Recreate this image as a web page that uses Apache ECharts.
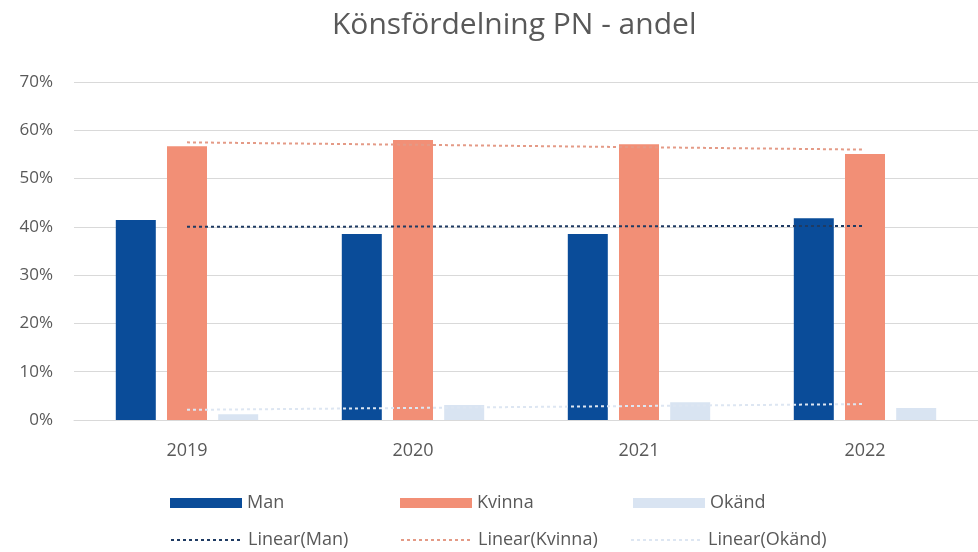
<!DOCTYPE html>
<html>
<head>
<meta charset="utf-8">
<script src="https://cdn.jsdelivr.net/npm/echarts@6/dist/echarts.min.js"></script>
<style>
html,body{margin:0;padding:0;background:#fff;}
#chart{width:978px;height:552px;}
</style>
</head>
<body>
<div id="chart"></div>
<script>
var categories = ['2019', '2020', '2021', '2022'];
var man = [41.4, 38.5, 38.5, 41.8];
var kvinna = [56.7, 58.0, 57.1, 55.1];
var okand = [1.2, 3.1, 3.7, 2.5];
// trend line end points [categoryIndex, value]
var manTrend = [[0, 40.0], [3, 40.2]];
var kvinnaTrend = [[0, 57.5], [3, 56.0]];
var okandTrend = [[0, 2.1], [3, 3.3]];
var yTicks = [0, 10, 20, 30, 40, 50, 60, 70];

var FONT = '"Open Sans", "Noto Sans", sans-serif';
var TXT = '#595959';
var C_MAN = '#0a4c99', C_KV = '#f28f76', C_OK = '#d9e4f2';
var C_MANT = '#1f3b63', C_KVT = '#e49a86', C_OKT = '#dde6f2';

var chart = echarts.init(document.getElementById('chart'));

function legendAt(name, left, top, isLine) {
  var l = {
    data: [name], left: left, top: top,
    itemWidth: 72, itemHeight: 10, itemGap: 0,
    selectedMode: false, padding: 0,
    textStyle: {color: TXT, fontSize: 18, fontFamily: FONT, lineHeight: 20, padding: [0, 0, 0, 0]}
  };
  if (isLine) {
    l.itemStyle = {opacity: 0};
  } else {
    l.icon = 'rect';
  }
  return l;
}

chart.setOption({
  animation: false,
  backgroundColor: '#fff',
  title: {
    text: 'Könsfördelning PN - andel',
    left: 327, top: 5,
    textStyle: {color: TXT, fontSize: 30, fontWeight: 'normal', fontFamily: FONT}
  },
  legend: [
    legendAt('Man', 170, 493, false),
    legendAt('Kvinna', 400, 493, false),
    legendAt('Okänd', 633, 493, false),
    legendAt('Linear(Man)', 170, 530, true),
    legendAt('Linear(Kvinna)', 400, 530, true),
    legendAt('Linear(Okänd)', 630, 530, true)
  ],
  grid: {left: 74, top: 82, width: 912, height: 338, containLabel: false},
  xAxis: {
    type: 'category', data: categories,
    axisTick: {show: false},
    axisLine: {show: true, lineStyle: {color: '#d9d9d9', width: 1}},
    axisLabel: {color: TXT, fontSize: 18, fontFamily: FONT, margin: 22}
  },
  yAxis: {
    type: 'value', min: yTicks[0], max: yTicks[yTicks.length - 1], interval: 10,
    axisLine: {show: false}, axisTick: {show: false},
    splitLine: {lineStyle: {color: '#d9d9d9', width: 1}},
    axisLabel: {color: TXT, fontSize: 17, fontFamily: FONT, margin: 21,
      formatter: function (v) { return v + '%'; }}
  },
  series: [
    {name: 'Man', type: 'bar', data: man, barWidth: 40, barGap: '28%',
      itemStyle: {color: C_MAN}},
    {name: 'Kvinna', type: 'bar', data: kvinna, barWidth: 40, barGap: '28%',
      itemStyle: {color: C_KV}},
    {name: 'Okänd', type: 'bar', data: okand, barWidth: 40, barGap: '28%',
      itemStyle: {color: C_OK}},
    {name: 'Linear(Man)', type: 'line', data: manTrend, symbol: 'none', z: 5,
      lineStyle: {color: C_MANT, width: 2, type: [3, 3]}, itemStyle: {color: C_MANT}},
    {name: 'Linear(Kvinna)', type: 'line', data: kvinnaTrend, symbol: 'none', z: 5,
      lineStyle: {color: C_KVT, width: 2, type: [3, 3]}, itemStyle: {color: C_KVT}},
    {name: 'Linear(Okänd)', type: 'line', data: okandTrend, symbol: 'none', z: 5,
      lineStyle: {color: C_OKT, width: 2, type: [3, 3]}, itemStyle: {color: C_OKT}}
  ]
});
</script>
</body>
</html>
